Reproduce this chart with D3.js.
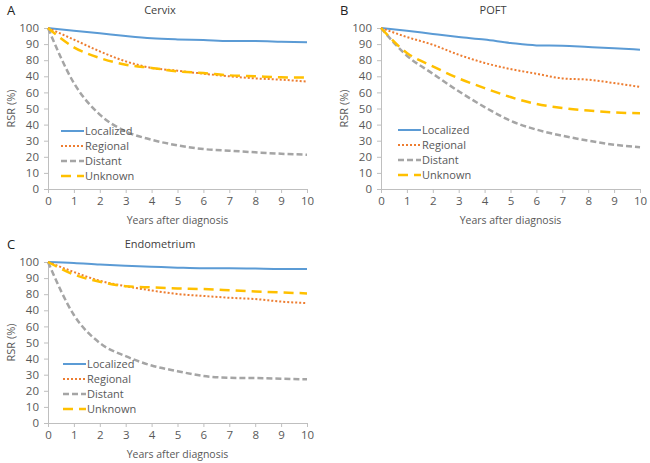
<!DOCTYPE html>
<html><head><meta charset="utf-8">
<script src="https://cdn.jsdelivr.net/npm/d3@7"></script>
<style>
body{margin:0;background:#fff;}
svg{font-family:"Open Sans","Noto Sans",sans-serif;}
</style></head>
<body><svg id="c" width="650" height="463"></svg>
<script>
// ---- data ----
const years = [0,1,2,3,4,5,6,7,8,9,10];
const yTickValues = [0,10,20,30,40,50,60,70,80,90,100];
const yTickLabels = ["0","10","20","30","40","50","60","40","80","90","100"];
const xTickLabels = ["0","1","2","3","4","5","6","7","8","9","10"];
const seriesNames = ["Localized","Regional","Distant","Unknown"];

const cervixLocalized = [100,98.3,96.7,95.0,93.6,92.9,92.5,91.9,91.9,91.5,91.1];
const cervixRegional  = [100,92.8,85.5,79.3,75.2,73.5,71.6,70.0,68.7,67.9,66.7];
const cervixDistant   = [100,65.8,46.2,35.8,30.6,27.1,24.8,23.8,22.8,21.9,21.3];
const cervixUnknown   = [100,88.0,81.4,77.2,75.2,73.1,72.0,70.6,70.0,69.4,69.2];

const poftLocalized = [100,98.3,96.3,94.4,92.8,90.7,89.2,89.0,88.2,87.4,86.5];
const poftRegional  = [100,94.4,89.6,83.4,78.3,74.5,71.6,68.7,67.9,65.8,63.4];
const poftDistant   = [100,82.8,71.6,60.7,50.9,42.4,36.9,33.1,30.0,27.5,25.9];
const poftUnknown   = [100,84.5,76.2,68.7,62.7,57.1,52.8,50.3,48.7,47.6,47.0];

const endoLocalized = [100,99.4,98.4,97.7,97.1,96.5,96.1,96.1,95.9,95.7,95.7];
const endoRegional  = [100,93.8,88.3,85.0,82.3,80.1,78.9,77.8,77.0,75.4,74.5];
const endoDistant   = [100,67.1,49.7,41.5,35.7,32.2,29.2,28.1,27.9,27.5,27.1];
const endoUnknown   = [100,92.2,87.7,85.0,84.2,83.6,83.2,82.5,81.7,81.1,80.5];

// ---- styles ----
const styles = {
  Localized:{color:"#5B9BD5", dash:null, w:2},
  Regional:{color:"#ED7D31", dash:"2,2", w:2},
  Distant:{color:"#A5A5A5", dash:"6,3", w:2.5},
  Unknown:{color:"#FFC000", dash:"10,6", w:2.5}
};

const panels = [
  {letter:"A", title:"Cervix", series:[cervixLocalized,cervixRegional,cervixDistant,cervixUnknown],
   x0:48, x1:307, yTop:28, yBot:189, lx:61, ly:131},
  {letter:"B", title:"POFT", series:[poftLocalized,poftRegional,poftDistant,poftUnknown],
   x0:381, x1:640, yTop:28, yBot:189, lx:398, ly:130},
  {letter:"C", title:"Endometrium", series:[endoLocalized,endoRegional,endoDistant,endoUnknown],
   x0:48, x1:307, yTop:262, yBot:423, lx:63, ly:364}
];

const svg = d3.select("#c");
const axisColor = "#BFBFBF", textColor = "#595959";

panels.forEach(p => {
  const g = svg.append("g");
  const x = d3.scaleLinear().domain([0,10]).range([p.x0,p.x1]);
  const y = d3.scaleLinear().domain([0,100]).range([p.yBot,p.yTop]);

  const xa = g.append("g").attr("transform",`translate(0,${p.yBot})`)
    .call(d3.axisBottom(x).tickValues(years).tickFormat((d,i)=>xTickLabels[i]).tickSize(4).tickSizeOuter(0));
  const ya = g.append("g").attr("transform",`translate(${p.x0},0)`)
    .call(d3.axisLeft(y).tickValues(yTickValues).tickFormat((d,i)=>yTickLabels[i]).tickSize(4).tickSizeOuter(0));
  [xa,ya].forEach(a=>{
    a.select(".domain").attr("stroke",axisColor);
    a.selectAll(".tick line").attr("stroke",axisColor);
    a.selectAll(".tick text").attr("fill",textColor).style("font-size","11.5px").style("font-family","'Open Sans',sans-serif");
  });
  xa.selectAll(".tick text").attr("y",6).attr("dy","0.85em");
  ya.selectAll(".tick text").attr("x",-9);

  const line = d3.line().x((d,i)=>x(years[i])).y(d=>y(d)).curve(d3.curveMonotoneX);
  seriesNames.forEach((name,k)=>{
    const s = styles[name];
    g.append("path").datum(p.series[k]).attr("d",line)
      .attr("fill","none").attr("stroke",s.color).attr("stroke-width",s.w)
      .attr("stroke-dasharray",s.dash);
  });

  // legend
  seriesNames.forEach((name,k)=>{
    const s = styles[name];
    const yy = p.ly + k*15;
    g.append("line").attr("x1",p.lx).attr("x2",p.lx+23).attr("y1",yy).attr("y2",yy)
      .attr("stroke",s.color).attr("stroke-width",s.w).attr("stroke-dasharray",s.dash);
    g.append("text").attr("x",p.lx+24).attr("y",yy).attr("dy","0.35em")
      .attr("fill",textColor).style("font-size","11px").text(name);
  });

  // title
  g.append("text").attr("x",p.x0+112).attr("y",p.yTop-18).attr("text-anchor","middle")
    .attr("dy","0.35em").attr("fill","#404040").style("font-size","11px").text(p.title);
  // panel letter
  g.append("text").attr("x",p.x0-41).attr("y",p.yTop-18).attr("dy","0.35em")
    .attr("fill","#222").style("font-size","13px").text(p.letter);
  // y label
  g.append("text").attr("transform",`translate(${p.x0-37},${(p.yTop+p.yBot)/2}) rotate(-90)`)
    .attr("text-anchor","middle").attr("dy","0.35em").attr("fill",textColor).style("font-size","11px").text("RSR (%)");
  // x label
  g.append("text").attr("x",(p.x0+p.x1)/2).attr("y",p.yBot+31).attr("text-anchor","middle")
    .attr("dy","0.35em").attr("fill",textColor).style("font-size","10.5px").text("Years after diagnosis");
});
</script></body></html>
